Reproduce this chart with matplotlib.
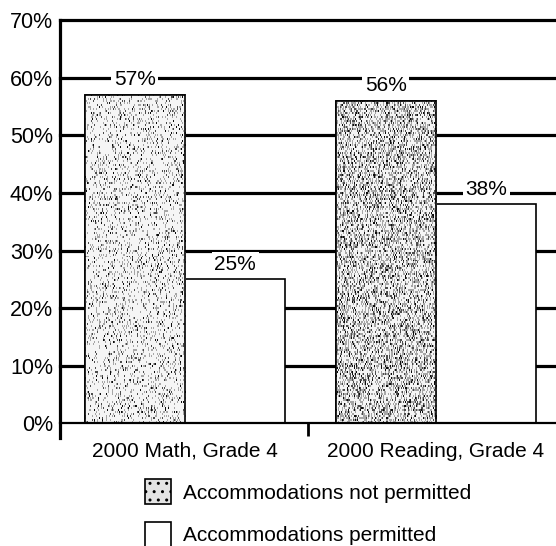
import numpy as np
import matplotlib.pyplot as plt
from matplotlib.patches import Rectangle

# data
categories = ['2000 Math, Grade 4', '2000 Reading, Grade 4']
not_permitted = [57, 56]
permitted = [25, 38]
series_names = ['Accommodations not permitted', 'Accommodations permitted']
yticks = [0, 10, 20, 30, 40, 50, 60, 70]
speck_density = [0.20, 0.46]   # how dark the stipple looks in each gray bar

plt.rcParams['font.family'] = ['Liberation Sans', 'DejaVu Sans']

fig = plt.figure(figsize=(5.56, 5.46), dpi=100)
ax = fig.add_axes([0.108, 0.2244, 0.892, 0.739])

x = np.arange(len(categories))
w = 0.4

# gridlines behind everything
for t in yticks[1:]:
    ax.axhline(t, color='black', lw=2.3, zorder=0.5, clip_on=False)

bars1 = ax.bar(x - w / 2, not_permitted, w, facecolor='white', edgecolor='black', lw=1.2, zorder=2)
bars2 = ax.bar(x + w / 2, permitted, w, facecolor='white', edgecolor='black', lw=1.2, zorder=2)

# stipple texture inside the gray bars
rng = np.random.default_rng(7)
for b, p in zip(bars1, speck_density):
    h = int(b.get_height() * 5.8 / 2)
    tex = np.full((h, 100), 0.96)
    m = rng.random((h, 100))
    tex[m < p] = 0.65
    tex[m < p * 0.35] = 0.3
    tex[m < p * 0.12] = 0.05
    bx, by = b.get_xy()
    im = ax.imshow(tex, cmap='gray', vmin=0, vmax=1, interpolation='nearest',
                   extent=[bx, bx + b.get_width(), by, by + b.get_height()],
                   aspect='auto', zorder=2.1)
    im.set_clip_path(b)
    ax.add_patch(Rectangle((bx, by), b.get_width(), b.get_height(), fill=False,
                           edgecolor='black', lw=1.2, zorder=2.2))

# value labels with white boxes breaking the gridlines
for bars, vals in [(bars1, not_permitted), (bars2, permitted)]:
    for b, v in zip(bars, vals):
        ax.annotate(f'{v}%', (b.get_x() + b.get_width() / 2, v), xytext=(0, 4),
                    textcoords='offset points', ha='center', va='bottom', fontsize=15,
                    bbox=dict(facecolor='white', edgecolor='none', pad=2), zorder=4)

ax.set_xlim(-0.498, 1.478)
ax.set_ylim(0, 70)
ax.set_yticks(yticks)
ax.set_yticklabels([f'{t}%' for t in yticks], fontsize=15.5)
ax.tick_params(axis='y', length=0, pad=5)

ax.set_xticks(x)
ax.set_xticklabels(categories, fontsize=15)
ax.tick_params(axis='x', which='major', length=0, pad=13)
ax.set_xticks([0.49], minor=True)
ax.tick_params(axis='x', which='minor', length=9, width=2, direction='out')

for s in ['top', 'right']:
    ax.spines[s].set_visible(False)
ax.spines['left'].set_linewidth(2.3)
ax.spines['bottom'].set_linewidth(1.6)
ax.spines['left'].set_bounds(-2.5, 70)

# legend
h1 = Rectangle((0, 0), 1, 1, facecolor='#e4e4e4', edgecolor='black', lw=1.2, hatch='..')
h2 = Rectangle((0, 0), 1, 1, facecolor='white', edgecolor='black', lw=1.2)
fig.legend([h1, h2], series_names, loc='upper left', bbox_to_anchor=(0.261, 0.122),
           frameon=False, fontsize=15, handlelength=1.25, handleheight=1.45,
           labelspacing=0.85, handletextpad=0.55, borderpad=0, borderaxespad=0)

fig.savefig('out.png', dpi=100)
